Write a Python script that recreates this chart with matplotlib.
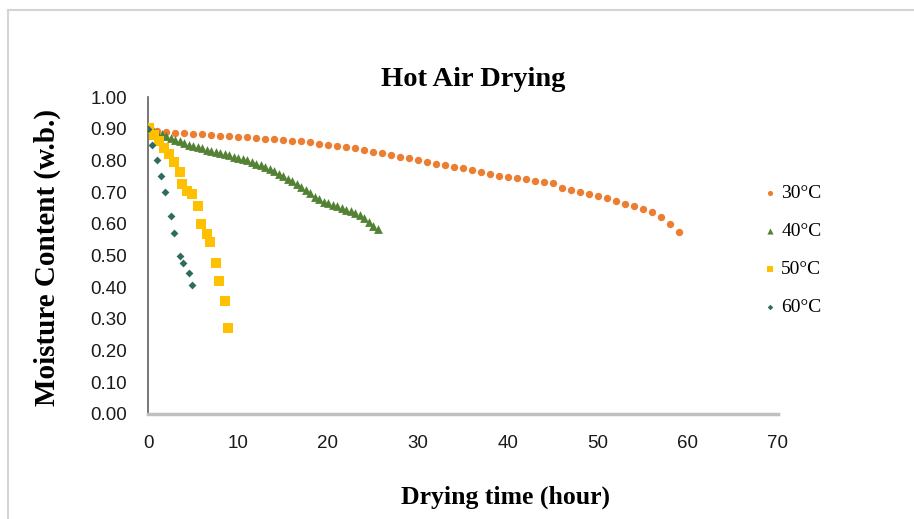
import matplotlib
matplotlib.use("Agg")
import matplotlib.pyplot as plt
from matplotlib.lines import Line2D

# ---- data ----
t30 = list(range(0, 60))
mc30 = [0.900, 0.893, 0.890, 0.888, 0.886, 0.884, 0.882, 0.880, 0.878, 0.877,
        0.875, 0.873, 0.871, 0.869, 0.867, 0.865, 0.862, 0.860, 0.857, 0.853,
        0.850, 0.846, 0.842, 0.838, 0.832, 0.827, 0.822, 0.817, 0.812, 0.806,
        0.800, 0.795, 0.790, 0.785, 0.780, 0.775, 0.769, 0.764, 0.758, 0.752,
        0.748, 0.744, 0.740, 0.736, 0.732, 0.728, 0.712, 0.706, 0.700, 0.694,
        0.688, 0.680, 0.672, 0.664, 0.655, 0.646, 0.636, 0.622, 0.600, 0.575]

t40 = [0.0, 0.5, 1.0, 1.5, 2.0, 2.5, 3.0, 3.5, 4.0, 4.5, 5.0, 5.5, 6.0, 6.5,
       7.0, 7.5, 8.0, 8.5, 9.0, 9.5, 10.0, 10.5, 11.0, 11.5, 12.0, 12.5, 13.0,
       13.5, 14.0, 14.5, 15.0, 15.5, 16.0, 16.5, 17.0, 17.5, 18.0, 18.5, 19.0,
       19.5, 20.0, 20.5, 21.0, 21.5, 22.0, 22.5, 23.0, 23.5, 24.0, 24.5, 25.0,
       25.5]
mc40 = [0.900, 0.895, 0.888, 0.882, 0.876, 0.870, 0.864, 0.860, 0.855, 0.850,
        0.846, 0.842, 0.838, 0.834, 0.830, 0.826, 0.823, 0.820, 0.816, 0.812,
        0.808, 0.804, 0.800, 0.795, 0.790, 0.784, 0.778, 0.772, 0.765, 0.758,
        0.750, 0.742, 0.735, 0.726, 0.716, 0.706, 0.696, 0.686, 0.677, 0.670,
        0.665, 0.660, 0.655, 0.650, 0.645, 0.640, 0.634, 0.627, 0.618, 0.605,
        0.592, 0.583]

t50 = [0.0, 0.1, 0.67, 1.2, 1.8, 2.3, 2.9, 3.5, 3.8, 4.3, 4.9, 5.5, 5.9, 6.5,
       6.9, 7.6, 7.9, 8.6, 8.9]
mc50 = [0.900, 0.903, 0.881, 0.860, 0.840, 0.820, 0.794, 0.763, 0.725, 0.703,
        0.694, 0.656, 0.600, 0.569, 0.544, 0.475, 0.418, 0.356, 0.272]

t60 = [0.0, 0.45, 1.0, 1.45, 1.9, 2.6, 2.9, 3.5, 3.9, 4.5, 4.9]
mc60 = [0.900, 0.850, 0.800, 0.750, 0.700, 0.625, 0.572, 0.497, 0.475, 0.444,
        0.406]

labels = ["30°C", "40°C", "50°C", "60°C"]
xticks = [0, 10, 20, 30, 40, 50, 60, 70]
yticks = [0.0, 0.1, 0.2, 0.3, 0.4, 0.5, 0.6, 0.7, 0.8, 0.9, 1.0]

# ---- figure ----
W, H = 914, 519
fig = plt.figure(figsize=(W / 100, H / 100), dpi=100)
ax = fig.add_axes([148 / W, 1 - 414 / H, (778 - 148) / W, (414 - 97) / H])

serif = "Liberation Serif"
sans = "Liberation Sans"

ax.scatter(t30, mc30, marker="o", s=28, color="#ED7D31", label=labels[0], zorder=3, linewidths=0)
ax.scatter(t40, mc40, marker="^", s=40, color="#548235", label=labels[1], zorder=3, linewidths=0)
ax.scatter(t50, mc50, marker="s", s=50, color="#FFC000", label=labels[2], zorder=3, linewidths=0)
ax.scatter(t60, mc60, marker="D", s=16, color="#2F6B5E", label=labels[3], zorder=4, linewidths=0)

ax.set_xlim(0, 70)
ax.set_ylim(0, 1.0)
ax.set_xticks(xticks)
ax.set_xticklabels([str(v) for v in xticks])
ax.set_yticks(yticks)
ax.set_yticklabels([f"{v:.2f}" for v in yticks])
ax.tick_params(axis="both", length=0, labelsize=13.5, colors="#1a1a1a")
ax.tick_params(axis="y", pad=15)
ax.tick_params(axis="x", pad=15)
for lab in ax.get_xticklabels() + ax.get_yticklabels():
    lab.set_fontfamily(sans)

for side in ("top", "right"):
    ax.spines[side].set_visible(False)
ax.spines["left"].set_color("#606060")
ax.spines["left"].set_linewidth(1.2)
ax.spines["bottom"].set_color("#BFBFBF")
ax.spines["bottom"].set_linewidth(2.5)

fig.text(473 / W, 1 - 80 / H, "Hot Air Drying", ha="center", va="center",
         fontsize=20.5, fontweight="bold", fontfamily=serif)
fig.text(506 / W, 1 - 497 / H, "Drying time (hour)", ha="center", va="center",
         fontsize=18.5, fontweight="bold", fontfamily=serif)
fig.text(47 / W, 1 - 257 / H, "Moisture Content (w.b.)", ha="center", va="center",
         rotation=90, fontsize=21, fontweight="bold", fontfamily=serif)

leg = ax.legend(loc="center left", bbox_to_anchor=(754 / W, 1 - 250 / H),
                bbox_transform=fig.transFigure, frameon=False,
                prop={"family": serif, "size": 14}, handlelength=0.6,
                handletextpad=0.3, labelspacing=1.05, borderpad=0,
                markerscale=0.7)

# light outer border
fig.add_artist(Line2D([8 / W, 1.0], [1 - 10 / H, 1 - 10 / H], transform=fig.transFigure,
                      color="#D4D4D4", linewidth=1.5))
fig.add_artist(Line2D([8 / W, 8 / W], [0.0, 1 - 10 / H], transform=fig.transFigure,
                      color="#D4D4D4", linewidth=1.5))

fig.savefig("out.png", dpi=100)
